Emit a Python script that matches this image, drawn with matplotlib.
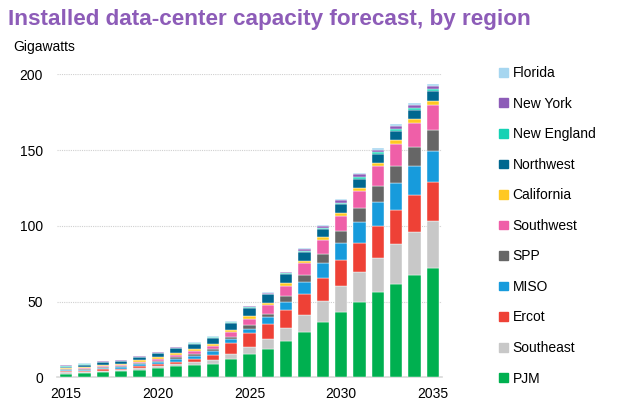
import matplotlib
matplotlib.use("Agg")
import matplotlib.pyplot as plt
import matplotlib.patches as mpatches
import numpy as np

plt.rcParams['font.family'] = ['Liberation Sans', 'DejaVu Sans']

years = list(range(2015, 2036))

# gigawatts per region, bottom of stack first
pjm = [2.6, 3.1, 3.6, 4.2, 5.1, 6.2, 7.3, 8.2, 9.2, 12.1, 15.6, 19.1, 24.4,
       30.1, 36.7, 43.3, 49.9, 56.4, 62.0, 67.7, 72.3]
southeast = [0.7, 0.7, 0.8, 0.8, 1.3, 1.3, 1.5, 2.1, 2.3, 3.1, 4.4, 6.2, 8.2,
             11.2, 14.1, 16.9, 20.0, 22.7, 26.1, 28.1, 30.8]
ercot = [0.9, 0.7, 0.9, 0.9, 1.3, 1.5, 1.7, 2.0, 3.1, 7.6, 9.2, 10.3, 12.2,
         13.8, 15.1, 17.1, 19.1, 21.1, 22.7, 24.6, 26.1]
miso = [0.7, 0.7, 0.9, 0.9, 1.1, 1.3, 1.6, 2.0, 2.9, 2.5, 3.0, 4.2, 5.3,
        7.7, 9.7, 11.7, 13.6, 15.8, 17.3, 18.9, 20.5]
spp = [0.4, 0.5, 0.6, 0.6, 0.7, 0.9, 1.1, 1.0, 1.1, 1.7, 2.3, 2.4, 3.8,
       4.9, 5.9, 7.5, 9.2, 10.1, 11.7, 13.0, 13.6]
southwest = [0.6, 0.7, 0.8, 0.9, 0.8, 1.3, 1.6, 1.9, 2.4, 3.1, 4.3, 5.5, 6.8,
             7.9, 9.2, 10.0, 11.2, 13.2, 14.5, 15.6, 16.5]
california = [0.5, 0.8, 0.8, 0.8, 1.1, 1.1, 1.5, 1.3, 1.4, 1.3, 1.6, 1.4, 1.5,
              1.5, 1.8, 2.0, 2.3, 2.0, 2.4, 2.4, 2.6]
northwest = [0.6, 1.2, 1.5, 1.6, 2.0, 2.4, 3.1, 3.8, 3.9, 4.8, 5.7, 5.9, 6.1,
             5.7, 5.7, 6.2, 5.9, 6.4, 6.1, 6.4, 6.6]
new_england = [0.8, 0.4, 0.4, 0.4, 0.3, 0.3, 0.2, 0.3, 0.3, 0.3, 0.4, 0.4, 0.4,
               0.9, 0.7, 0.7, 0.9, 0.8, 0.9, 1.1, 1.1]
new_york = [0.3, 0.4, 0.3, 0.4, 0.3, 0.3, 0.3, 0.3, 0.4, 0.4, 0.6, 0.6, 0.6,
            0.9, 1.3, 1.5, 1.9, 1.8, 2.2, 2.2, 2.6]
florida = [0.3, 0.3, 0.3, 0.3, 0.3, 0.3, 0.3, 0.2, 0.3, 0.3, 0.4, 0.4, 0.4,
           0.7, 0.7, 0.9, 0.9, 1.1, 1.1, 1.3, 1.3]

series = [
    ("PJM", pjm, "#00b050"),
    ("Southeast", southeast, "#c8c8c8"),
    ("Ercot", ercot, "#ee4136"),
    ("MISO", miso, "#179bdc"),
    ("SPP", spp, "#666666"),
    ("Southwest", southwest, "#ef5fa8"),
    ("California", california, "#ffc822"),
    ("Northwest", northwest, "#00678f"),
    ("New England", new_england, "#14d2b4"),
    ("New York", new_york, "#8d5cb8"),
    ("Florida", florida, "#a6d6f0"),
]

fig = plt.figure(figsize=(6.22, 4.13), dpi=100)
ax = fig.add_axes([0.0916, 0.086, 0.619, 0.7337])

bottom = np.zeros(len(years))
handles = []
for name, vals, col in series:
    ax.bar(years, vals, width=0.67, bottom=bottom, color=col,
           edgecolor="white", linewidth=0.3, zorder=3)
    bottom += np.array(vals)
    handles.append(mpatches.Patch(color=col, label=name))

ax.set_xlim(2014.5, 2035.5)
ax.set_ylim(0, 200)
ax.set_yticks([0, 50, 100, 150, 200])
ax.set_xticks([2015, 2020, 2025, 2030, 2035])
ax.yaxis.grid(True, color="#d0d0d0", linestyle=(0, (1, 1)), linewidth=0.8, zorder=0)
for s in ["top", "right", "left"]:
    ax.spines[s].set_visible(False)
ax.spines["bottom"].set_color("#d9d9d9")
ax.spines["bottom"].set_linewidth(1.2)
ax.tick_params(axis="both", length=0, labelsize=10, colors="black")
ax.tick_params(axis="y", pad=10)
ax.tick_params(axis="x", pad=7)

fig.text(0.013, 0.953, "Installed data-center capacity forecast, by region",
         fontsize=16.2, fontweight="bold", color="#8d5cb8", va="center")
fig.text(0.022, 0.886, "Gigawatts", fontsize=10, va="center")

fig.legend(handles=handles[::-1], loc="upper left", bbox_to_anchor=(0.794, 0.853),
           frameon=False, fontsize=10, handlelength=0.6, handleheight=0.6,
           handletextpad=0.35, labelspacing=1.19, borderaxespad=0)

fig.savefig("out.png", dpi=100)
